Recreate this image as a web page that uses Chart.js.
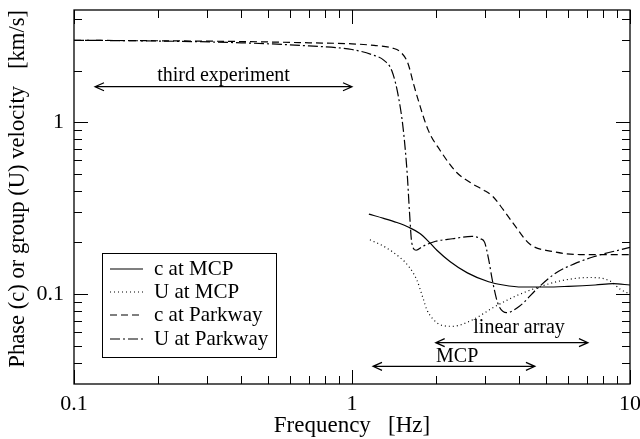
<!DOCTYPE html>
<html><head><meta charset="utf-8">
<script src="https://cdn.jsdelivr.net/npm/chart.js@4/dist/chart.umd.min.js"></script>
<style>html,body{margin:0;padding:0;background:#fff;}canvas{display:block;}</style>
</head><body>
<canvas id="c" width="640" height="439"></canvas>
<script>
// ---- data (frequency in Hz, velocity in km/s) ----
const cMcpFreq = [1.15, 1.3, 1.45, 1.6, 1.75, 1.9, 2.02, 2.25, 2.6, 3.1, 3.5, 4.1, 5.0, 6.0, 7.5, 8.7, 10];
const cMcpVel  = [0.292, 0.276, 0.261, 0.245, 0.226, 0.200, 0.180, 0.155, 0.133, 0.118, 0.113, 0.110, 0.110, 0.111, 0.113, 0.115, 0.113];

const uMcpFreq = [1.16, 1.3, 1.49, 1.6, 1.71, 1.8, 1.86, 1.95, 2.07, 2.3, 2.72, 3.2, 3.8, 4.7, 5.7, 7.2, 8.5, 9.2, 10];
const uMcpVel  = [0.207, 0.190, 0.163, 0.145, 0.121, 0.095, 0.081, 0.072, 0.0665, 0.065, 0.071, 0.083, 0.096, 0.110, 0.120, 0.125, 0.119, 0.107, 0.100];

const cParkFreq = [0.1, 0.2, 0.4, 0.7, 1.0, 1.2, 1.4, 1.5, 1.59, 1.66, 1.73, 1.88, 2.07, 2.38, 2.7, 2.96, 3.21, 3.5, 3.79, 4.37, 5.28, 6.6, 10];
const cParkVel  = [3.0, 2.98, 2.95, 2.9, 2.86, 2.8, 2.7, 2.55, 2.2, 1.7, 1.35, 0.9, 0.69, 0.51, 0.44, 0.405, 0.37, 0.31, 0.26, 0.195, 0.177, 0.170, 0.170];

const uParkFreq = [0.1, 0.2, 0.4, 0.7, 1.0, 1.2, 1.3, 1.39, 1.47, 1.53, 1.58, 1.61, 1.64, 1.70, 1.8, 2.0, 2.3, 2.7, 2.9, 3.0, 3.1, 3.2, 3.35, 3.6, 4.0, 4.7, 5.5, 6.3, 7.4, 10];
const uParkVel  = [3.0, 2.97, 2.9, 2.78, 2.65, 2.45, 2.3, 2.0, 1.4, 0.9, 0.5, 0.3, 0.2, 0.18, 0.19, 0.203, 0.21, 0.217, 0.21, 0.2, 0.16, 0.12, 0.088, 0.078, 0.085, 0.11, 0.135, 0.15, 0.165, 0.187];

const seriesLabels = ['c at MCP', 'U at MCP', 'c at Parkway', 'U at Parkway'];

// axis ticks
const xMajorTicks = [0.1, 1, 10];
const xMinorTicks = [0.2, 0.3, 0.4, 0.5, 0.6, 0.7, 0.8, 0.9, 2, 3, 4, 5, 6, 7, 8, 9];
const yMajorTicks = [0.1, 1];
const yMinorTicks = [0.04, 0.05, 0.06, 0.07, 0.08, 0.09, 0.2, 0.3, 0.4, 0.5, 0.6, 0.7, 0.8, 0.9, 2, 3, 4];

// range annotations (double arrows)
const rangeLabels = ['third experiment', 'linear array', 'MCP'];
const rangeFrom   = [0.119, 2.0, 1.19];
const rangeTo     = [1.0, 7.06, 4.55];
const rangeLevel  = [1.61, 0.0522, 0.038];
const rangeTextX  = [0.345, 3.99, 2.39];
const rangeTextY  = [1.74, 0.0597, 0.0401];

const toPts = (xs, ys) => xs.map((x, i) => ({x: x, y: ys[i]}));
const SERIF = "'Liberation Serif', 'Times New Roman', serif";

const styles = [
  {dash: []},
  {dash: [1, 3]},
  {dash: [7, 4]},
  {dash: [10, 3, 2, 3]}
];

const datasets = [
  toPts(cMcpFreq, cMcpVel), toPts(uMcpFreq, uMcpVel),
  toPts(cParkFreq, cParkVel), toPts(uParkFreq, uParkVel)
].map((d, i) => ({
  label: seriesLabels[i],
  data: d,
  borderColor: '#000',
  backgroundColor: '#000',
  borderWidth: 1.2,
  borderDash: styles[i].dash,
  pointRadius: 0,
  fill: false,
  cubicInterpolationMode: 'monotone'
}));

const framePlugin = {
  id: 'frame',
  afterDatasetsDraw(chart) {
    const ctx = chart.ctx, a = chart.chartArea;
    const xs = chart.scales.x, ys = chart.scales.y;
    ctx.save();
    ctx.strokeStyle = '#000';
    ctx.lineWidth = 1.3;
    ctx.setLineDash([]);
    ctx.strokeRect(a.left, a.top, a.right - a.left, a.bottom - a.top);
    ctx.lineWidth = 1;
    const xt = (vals, len) => vals.forEach(v => {
      const p = Math.round(xs.getPixelForValue(v)) + 0.5;
      ctx.beginPath();
      ctx.moveTo(p, a.bottom); ctx.lineTo(p, a.bottom - len);
      ctx.moveTo(p, a.top); ctx.lineTo(p, a.top + len);
      ctx.stroke();
    });
    const yt = (vals, len) => vals.forEach(v => {
      const p = Math.round(ys.getPixelForValue(v)) + 0.5;
      ctx.beginPath();
      ctx.moveTo(a.left, p); ctx.lineTo(a.left + len, p);
      ctx.moveTo(a.right, p); ctx.lineTo(a.right - len, p);
      ctx.stroke();
    });
    xt(xMajorTicks, 14); xt(xMinorTicks, 8);
    yt(yMajorTicks, 14); yt(yMinorTicks, 8);

    // range arrows + labels
    ctx.lineWidth = 1.2;
    ctx.fillStyle = '#000';
    ctx.font = '20px ' + SERIF;
    ctx.textAlign = 'center';
    ctx.textBaseline = 'alphabetic';
    rangeLabels.forEach((t, i) => {
      const x1 = xs.getPixelForValue(rangeFrom[i]);
      const x2 = xs.getPixelForValue(rangeTo[i]);
      const y = ys.getPixelForValue(rangeLevel[i]);
      ctx.beginPath();
      ctx.moveTo(x1, y); ctx.lineTo(x2, y);
      ctx.moveTo(x1 + 9, y - 4); ctx.lineTo(x1, y); ctx.lineTo(x1 + 9, y + 4);
      ctx.moveTo(x2 - 9, y - 4); ctx.lineTo(x2, y); ctx.lineTo(x2 - 9, y + 4);
      ctx.stroke();
      ctx.fillText(t, xs.getPixelForValue(rangeTextX[i]), ys.getPixelForValue(rangeTextY[i]));
    });

    // legend box
    const bx = a.left + 28, by = a.top + 243, bw = 174, bh = 104;
    ctx.lineWidth = 1;
    ctx.strokeRect(bx + 0.5, by + 0.5, bw, bh);
    ctx.font = '21px ' + SERIF;
    ctx.textAlign = 'left';
    ctx.textBaseline = 'middle';
    const rows = [16, 39, 62, 86];
    chart.data.datasets.forEach((ds, i) => {
      const yy = by + rows[i];
      ctx.beginPath();
      ctx.setLineDash(ds.borderDash);
      ctx.lineWidth = ds.borderWidth;
      ctx.moveTo(bx + 8, yy); ctx.lineTo(bx + 41, yy);
      ctx.stroke();
      ctx.setLineDash([]);
      ctx.fillText(ds.label, bx + 52, yy);
    });
    ctx.restore();
  }
};

new Chart(document.getElementById('c'), {
  type: 'line',
  data: {datasets: datasets},
  options: {
    responsive: false,
    animation: false,
    devicePixelRatio: 1,
    layout: {padding: {top: 10, right: 10, left: 0, bottom: 0}},
    plugins: {legend: {display: false}, tooltip: {enabled: false}},
    scales: {
      x: {
        type: 'logarithmic',
        min: 0.1, max: 10,
        afterBuildTicks: s => { s.ticks = xMajorTicks.map(v => ({value: v})); },
        afterFit: s => { s.height = 55; s.paddingLeft = 0; s.paddingRight = 0; },
        grid: {display: false, drawTicks: false},
        border: {display: false},
        ticks: {color: '#000', font: {family: SERIF, size: 22}, padding: 7, maxRotation: 0, autoSkip: false,
                callback: v => String(v)},
        title: {display: true, text: 'Frequency   [Hz]', color: '#000',
                font: {family: SERIF, size: 23, lineHeight: 1.0}, padding: {top: 0, bottom: 2}}
      },
      y: {
        type: 'logarithmic',
        min: 0.03, max: 4.5,
        afterBuildTicks: s => { s.ticks = yMajorTicks.map(v => ({value: v})); },
        afterFit: s => { s.width = 74; s.paddingTop = 0; s.paddingBottom = 0; },
        grid: {display: false, drawTicks: false},
        border: {display: false},
        ticks: {color: '#000', font: {family: SERIF, size: 22}, padding: 10, autoSkip: false,
                callback: v => String(v)},
        title: {display: true, text: 'Phase (c) or group (U) velocity   [km/s]', color: '#000', align: 'end',
                font: {family: SERIF, size: 22.6, lineHeight: 1.0}, padding: {top: 7, bottom: 0}}
      }
    }
  },
  plugins: [framePlugin]
});
</script>
</body></html>
